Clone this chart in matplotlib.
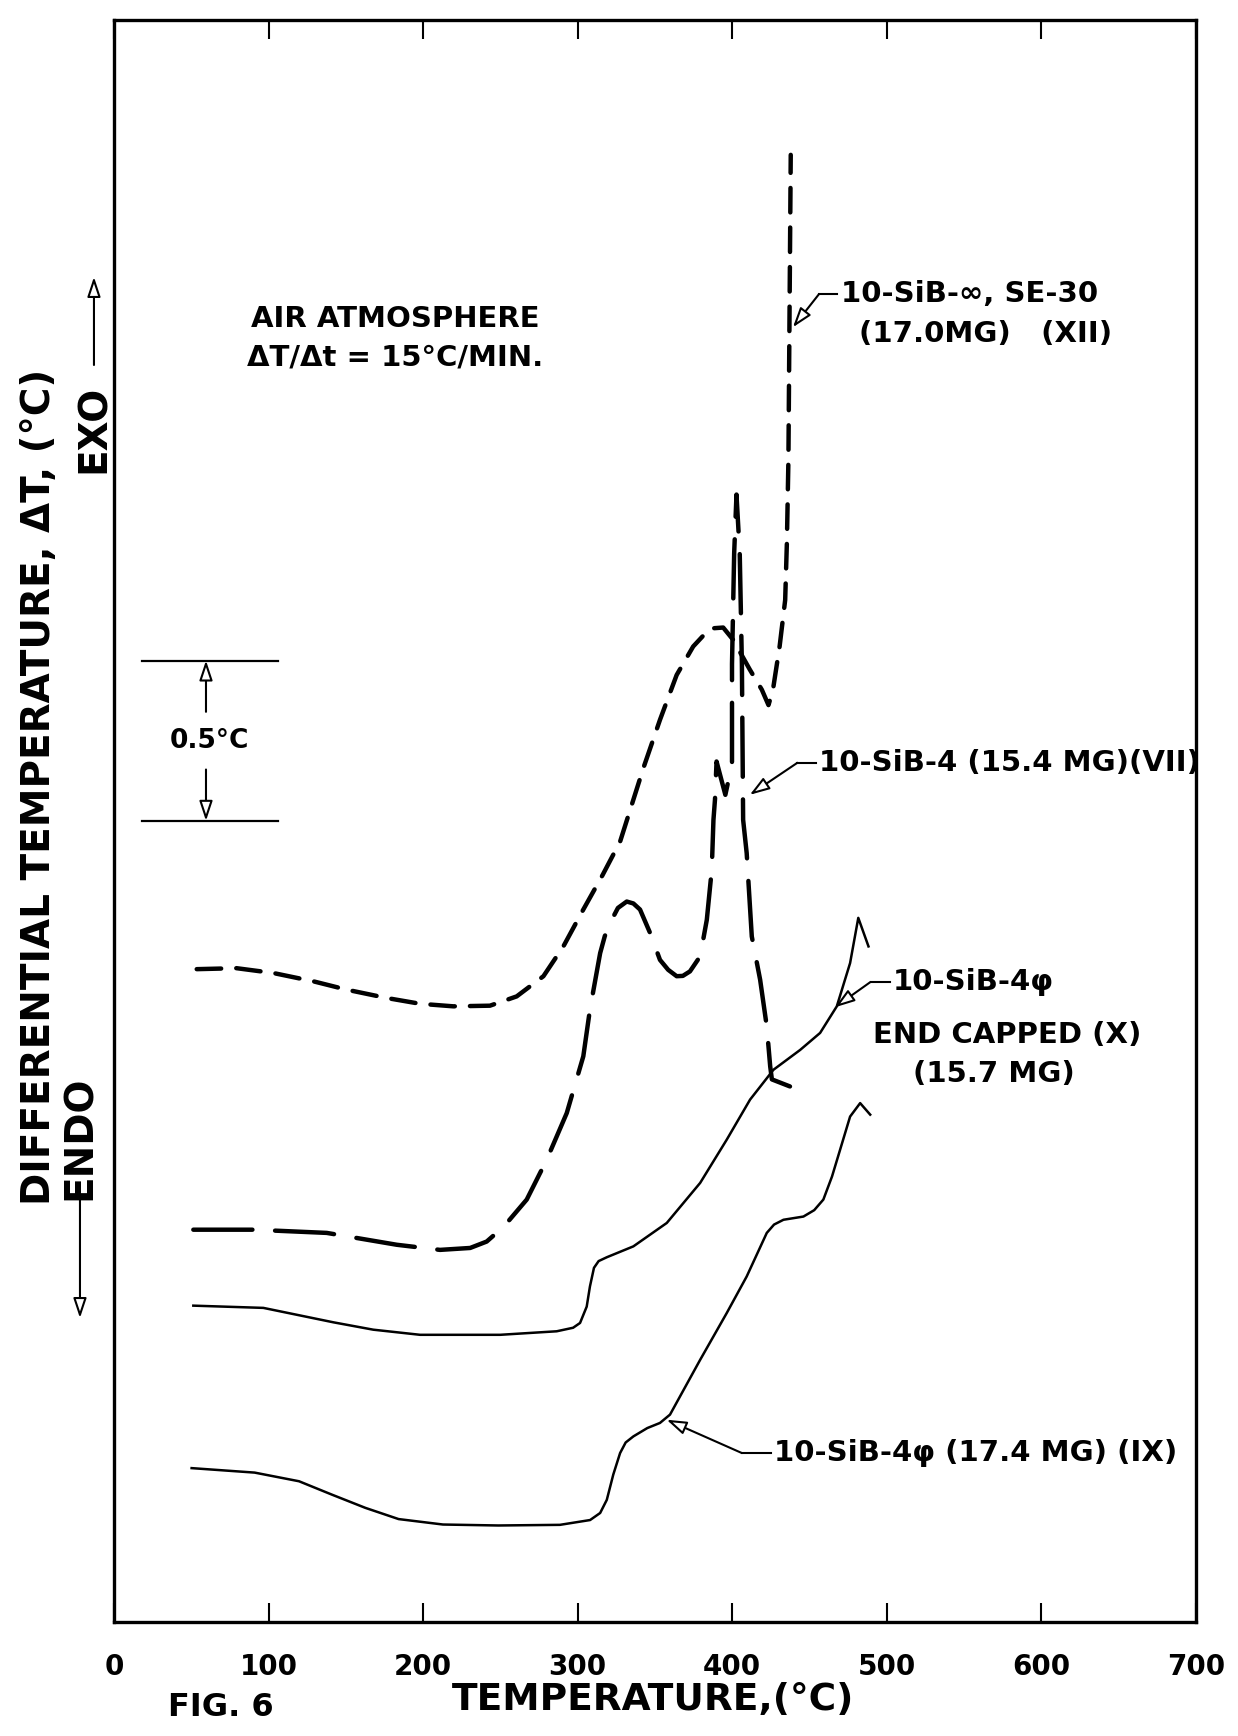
import matplotlib.pyplot as plt

# DTA curves: temperature (degC) and Delta T offset (degC)
xii_t = [53.5, 79.3, 103.0, 129.0, 150.5, 176.4, 198.0, 219.5, 243.2, 260.5,
         277.8, 290.7, 303.6, 316.0, 327.4, 342.5, 353.2, 364.0, 374.7, 385.5,
         394.1, 400.5, 411.3, 419.1, 423.4, 426.3, 430.6, 434.2, 435.3, 436.3, 437.8]
xii_dt = [2.037, 2.040, 2.025, 1.999, 1.973, 1.947, 1.929, 1.921, 1.923, 1.952,
          2.015, 2.108, 2.223, 2.330, 2.435, 2.665, 2.815, 2.955, 3.044, 3.100,
          3.103, 3.065, 2.972, 2.909, 2.861, 2.909, 3.044, 3.189, 3.367, 3.628, 4.578]

vii_t = [51.3, 90.1, 137.6, 182.9, 210.9, 230.4, 241.1, 252.2, 267.0, 279.9,
         292.9, 303.6, 307.9, 314.5, 317.5, 320.9, 326.0, 331.7, 336.0, 340.3,
         346.8, 353.2, 358.5, 364.0, 368.0, 372.6, 379.2, 383.5, 386.7, 387.8,
         388.8, 389.8, 395.5, 399.8, 399.8, 401.2, 402.7, 404.8, 406.2, 407.0,
         409.3, 412.6, 418.0, 422.3, 424.5, 425.6, 437.3]
vii_dt = [1.224, 1.224, 1.214, 1.177, 1.161, 1.167, 1.187, 1.234, 1.318, 1.442,
          1.588, 1.765, 1.911, 2.087, 2.140, 2.181, 2.228, 2.248, 2.242, 2.223,
          2.150, 2.066, 2.035, 2.015, 2.016, 2.030, 2.077, 2.191, 2.347, 2.503,
          2.567, 2.685, 2.581, 2.678, 2.989, 3.335, 3.518, 3.335, 2.989, 2.503,
          2.399, 2.139, 2.004, 1.858, 1.734, 1.693, 1.671]

x_t = [51.3, 96.6, 141.9, 167.7, 198.0, 249.8, 286.4, 297.0, 301.5, 305.8,
       307.9, 310.5, 313.5, 318.8, 336.0, 357.6, 379.2, 396.4, 411.5, 426.6,
       443.9, 456.8, 467.6, 476.2, 481.5, 488.1]
x_dt = [0.987, 0.980, 0.935, 0.912, 0.896, 0.896, 0.907, 0.918, 0.933, 0.984,
        1.047, 1.105, 1.126, 1.138, 1.172, 1.245, 1.370, 1.505, 1.630, 1.723,
        1.785, 1.838, 1.921, 2.056, 2.197, 2.108]

ix_t = [50.2, 91.0, 119.7, 141.1, 162.6, 184.1, 212.8, 248.6, 288.5, 308.0,
        314.5, 318.8, 323.0, 327.4, 331.0, 336.0, 345.0, 353.2, 359.7, 379.2,
        396.4, 409.3, 422.3, 427.0, 433.1, 446.0, 453.0, 458.9, 464.5, 469.7,
        476.2, 482.7, 489.2]
ix_dt = [0.480, 0.466, 0.439, 0.397, 0.356, 0.321, 0.304, 0.301, 0.303, 0.318,
         0.340, 0.381, 0.460, 0.527, 0.560, 0.579, 0.605, 0.621, 0.647, 0.818,
         0.964, 1.078, 1.214, 1.240, 1.255, 1.265, 1.285, 1.318, 1.390, 1.473,
         1.577, 1.619, 1.583]

x_ticks = [0, 100, 200, 300, 400, 500, 600, 700]

plt.rcParams['font.weight'] = 'bold'

fig = plt.figure(figsize=(12.38, 17.36), dpi=100)
ax = fig.add_axes([0.0921, 0.0657, 0.874, 0.923])

ax.plot(xii_t, xii_dt, color='black', lw=3.2, linestyle=(0, (5.5, 3.4)),
        dash_capstyle='round', solid_joinstyle='round')
ax.plot(vii_t, vii_dt, color='black', lw=3.2, linestyle=(0, (13.3, 5.1)),
        dash_capstyle='round', solid_joinstyle='round')
ax.plot(x_t, x_dt, color='black', lw=1.8, solid_joinstyle='round')
ax.plot(ix_t, ix_dt, color='black', lw=1.8, solid_joinstyle='round')

ax.set_xlim(0, 700)
ax.set_ylim(0, 5.0)
ax.set_xticks(x_ticks)
ax.set_xticklabels([str(v) for v in x_ticks], fontsize=20, fontweight='bold')
ax.set_yticks([])
ax.tick_params(axis='x', direction='in', top=True, length=14, width=1.5, pad=22)
for s in ax.spines.values():
    s.set_linewidth(2.4)

arrow = dict(arrowstyle='-|>,head_length=1.2,head_width=0.4', fc='white', ec='black',
             lw=1.5, shrinkA=0, shrinkB=0, mutation_scale=10)

# scale bar
ax.plot([17.9, 106], [3.0, 3.0], color='black', lw=1.6)
ax.plot([17.9, 106], [2.5, 2.5], color='black', lw=1.6)
ax.annotate('', xy=(59.5, 3.0), xytext=(59.5, 2.84), arrowprops=arrow)
ax.annotate('', xy=(59.5, 2.5), xytext=(59.5, 2.66), arrowprops=arrow)
ax.text(62, 2.75, '0.5°C', fontsize=19, ha='center', va='center')

ax.text(182, 4.067, 'AIR ATMOSPHERE', fontsize=21, ha='center', va='center')
ax.text(182, 3.946, 'ΔT/Δt = 15°C/MIN.', fontsize=21, ha='center', va='center')

# curve labels with leaders
ax.annotate('', xy=(439.2, 4.04), xytext=(456, 4.143), arrowprops=arrow)
ax.plot([456, 468], [4.143, 4.143], color='black', lw=1.5)
ax.text(470, 4.143, '10-SiB-∞, SE-30', fontsize=21, ha='left', va='center')
ax.text(482, 4.019, '(17.0MG)   (XII)', fontsize=21, ha='left', va='center')

ax.annotate('', xy=(411.3, 2.581), xytext=(442.1, 2.681), arrowprops=arrow)
ax.plot([442.1, 454], [2.681, 2.681], color='black', lw=1.5)
ax.text(456, 2.681, '10-SiB-4 (15.4 MG)(VII)', fontsize=21, ha='left', va='center')

ax.annotate('', xy=(466.4, 1.918), xytext=(489.4, 1.997), arrowprops=arrow)
ax.plot([489.4, 502], [1.997, 1.997], color='black', lw=1.5)
ax.text(504, 1.997, '10-SiB-4φ', fontsize=21, ha='left', va='center')
ax.text(578, 1.831, 'END CAPPED (X)', fontsize=21, ha='center', va='center')
ax.text(569, 1.710, '(15.7 MG)', fontsize=21, ha='center', va='center')

ax.annotate('', xy=(357.5, 0.631), xytext=(406.2, 0.527), arrowprops=arrow)
ax.plot([406.2, 425], [0.527, 0.527], color='black', lw=1.5)
ax.text(427, 0.527, '10-SiB-4φ (17.4 MG) (IX)', fontsize=21, ha='left', va='center')

# axis titles
fig.text(0.5275, 1 - 1700 / 1736, 'TEMPERATURE,(°C)', fontsize=27, ha='center', va='center')
fig.text(0.1785, 1 - 1708 / 1736, 'FIG. 6', fontsize=23, ha='center', va='center')
fig.text(0.0315, 0.547, 'DIFFERENTIAL TEMPERATURE, ΔT, (°C)', fontsize=28,
         rotation=90, ha='center', va='center')
fig.text(0.0759, 1 - 429 / 1736, 'EXO', fontsize=28, rotation=90, ha='center', va='center')
fig.text(0.0646, 1 - 1138 / 1736, 'ENDO', fontsize=28, rotation=90, ha='center', va='center')
ax.annotate('', xy=(0.0759, 1 - 277 / 1736), xytext=(0.0759, 1 - 365 / 1736),
            xycoords='figure fraction', textcoords='figure fraction', arrowprops=arrow)
ax.annotate('', xy=(0.0646, 1 - 1318 / 1736), xytext=(0.0646, 1 - 1200 / 1736),
            xycoords='figure fraction', textcoords='figure fraction', arrowprops=arrow)

fig.savefig('out.png', dpi=100, facecolor='white')
